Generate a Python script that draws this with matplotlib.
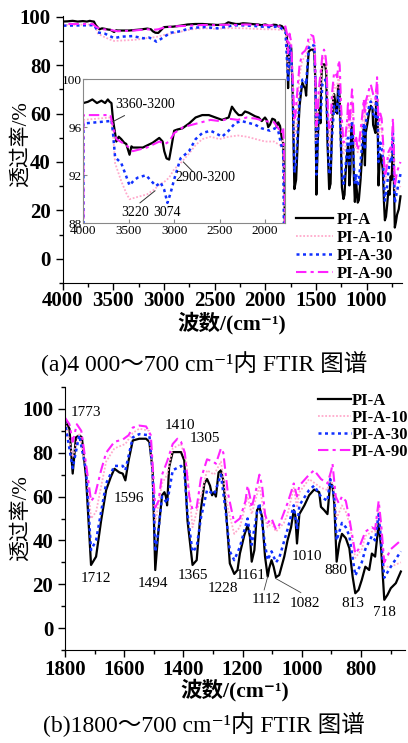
import numpy as np
import matplotlib
matplotlib.use("Agg")
import matplotlib.pyplot as plt
from matplotlib.ticker import MultipleLocator

plt.rcParams['font.family'] = ['Liberation Serif', 'Noto Sans CJK SC', 'DejaVu Sans']
plt.rcParams['axes.unicode_minus'] = False

# ---- spectra (wavenumber cm-1, transmittance %) ----
pia_wn = [4000, 3950, 3900, 3850, 3800, 3760, 3730, 3709, 3690, 3673, 3650, 3636, 3610, 3582,
          3550, 3527, 3491, 3470, 3455, 3400, 3345, 3290, 3236, 3200, 3164, 3127, 3109, 3084,
          3055, 3029, 3000, 2964, 2909, 2836, 2764, 2691, 2618, 2545, 2473, 2400, 2364, 2327,
          2290, 2255, 2220, 2182, 2109, 2070, 2036, 2000, 1982, 1965, 1945, 1920, 1891, 1870,
          1855, 1835, 1818,
          1800, 1785, 1774, 1763, 1752, 1743, 1729, 1712, 1695, 1678, 1661, 1645, 1633, 1616,
          1605, 1596, 1585, 1571, 1549, 1526, 1515, 1504, 1495, 1484, 1472, 1464, 1459, 1455,
          1448, 1436, 1408, 1397, 1386, 1369, 1355, 1341, 1329, 1320, 1310, 1303, 1296, 1290,
          1281, 1273, 1265, 1256, 1243, 1228, 1217, 1209, 1194, 1183, 1175, 1169, 1160, 1151,
          1143, 1134, 1124, 1115, 1110, 1102, 1095, 1087, 1076, 1059, 1048, 1036, 1027, 1022,
          1016, 1008, 991, 975, 958, 941, 935, 924, 913, 904, 896, 890, 882, 873, 864, 851,
          839, 828, 819, 808, 797, 785, 772, 763, 752, 740, 732, 721, 710, 699, 682, 665]
pia_t = [98.0, 98.1, 98.3, 98.0, 98.2, 98.0, 98.3, 98.1, 98.0, 96.6, 95.5, 94.8, 95.2, 95.0,
         94.7, 94.6, 93.7, 94.4, 94.3, 94.3, 94.3, 94.5, 94.7, 94.9, 95.1, 94.8, 94.0, 93.4,
         93.3, 94.4, 95.7, 95.8, 95.9, 96.3, 96.8, 97.0, 97.0, 96.8, 96.6, 96.8, 97.7, 97.3,
         97.0, 97.0, 97.3, 97.2, 96.9, 96.8, 96.5, 96.8, 96.6, 96.0, 96.2, 96.7, 96.6, 96.0,
         96.4, 96.1, 95.2,
         94.7, 91.0, 70.5, 87.0, 88.0, 87.0, 69.0, 28.8, 32.6, 49.0, 63.0, 69.0, 72.7, 71.0,
         70.5, 67.4, 76.5, 85.6, 86.4, 86.4, 85.0, 72.0, 26.5, 44.7, 60.6, 62.0, 60.0, 56.0,
         73.5, 80.3, 80.3, 76.5, 49.0, 28.8, 31.0, 53.8, 66.0, 68.0, 65.0, 60.6, 62.0, 60.0,
         71.0, 72.0, 67.4, 53.8, 29.5, 24.7, 26.5, 34.0, 42.4, 47.0, 41.7, 30.3, 35.6, 53.8,
         55.3, 50.8, 32.6, 23.5, 27.3, 31.0, 28.0, 23.2, 24.2, 32.6, 40.0, 46.0, 53.8, 51.5,
         38.6, 52.0, 56.0, 60.6, 63.2, 62.0, 55.3, 53.8, 52.0, 66.0, 65.0, 56.8, 30.3, 38.6,
         43.0, 41.0, 36.4, 23.5, 15.9, 17.4, 22.0, 28.0, 26.5, 34.0, 32.6, 47.7, 37.0, 12.9,
         15.2, 18.2, 20.5, 25.8]

pia10_wn = [4000, 3700, 3673, 3650, 3582, 3527, 3491, 3400, 3300, 3220, 3164, 3100, 3055, 3000,
            2930, 2836, 2764, 2691, 2600, 2500, 2400, 2300, 2200, 2100, 2000, 1900, 1818,
            1800, 1774, 1752, 1729, 1712, 1695, 1661, 1633, 1596, 1571, 1549, 1515, 1495, 1472,
            1455, 1436, 1408, 1390, 1369, 1341, 1320, 1296, 1273, 1250, 1228, 1209, 1183, 1169,
            1143, 1124, 1115, 1102, 1087, 1060, 1048, 1027, 1016, 1008, 975, 935, 913, 904, 890,
            882, 864, 851, 839, 819, 797, 785, 763, 752, 740, 721, 699, 665]
pia10_t = [96.6, 96.8, 95.5, 93.0, 91.5, 90.5, 90.0, 90.2, 90.4, 90.8, 91.2, 91.5, 91.8, 92.5,
           93.0, 93.8, 94.5, 95.0, 95.2, 95.0, 95.2, 95.3, 95.2, 95.0, 94.8, 94.8, 94.4,
           95.0, 78.0, 89.0, 74.0, 50.0, 53.0, 76.0, 82.0, 84.0, 89.0, 91.0, 90.0, 48.0, 66.0,
           70.0, 82.0, 84.0, 76.0, 46.0, 60.0, 72.0, 70.0, 76.0, 55.0, 43.0, 46.0, 60.0, 52.0,
           65.0, 50.0, 46.0, 48.0, 44.0, 48.0, 52.0, 64.0, 55.0, 62.0, 68.0, 64.0, 63.0, 70.0,
           62.0, 50.0, 56.0, 53.0, 48.0, 32.0, 36.0, 42.0, 44.0, 44.0, 55.0, 28.0, 28.0, 30.0]

pia30_wn = [4000, 3999, 3709, 3690, 3673, 3650, 3582, 3527, 3491, 3440, 3400, 3310, 3250, 3200,
            3150, 3110, 3074, 3040, 3000, 2930, 2836, 2764, 2691, 2600, 2545, 2473, 2400, 2327,
            2255, 2182, 2109, 2036, 1945, 1891, 1855, 1818,
            1800, 1774, 1752, 1729, 1712, 1695, 1661, 1633, 1605, 1596, 1571, 1549, 1515, 1504,
            1495, 1484, 1472, 1455, 1436, 1408, 1397, 1386, 1369, 1355, 1341, 1320, 1296, 1273,
            1256, 1243, 1228, 1209, 1183, 1169, 1151, 1143, 1124, 1115, 1102, 1087, 1076, 1048,
            1027, 1016, 1008, 975, 958, 935, 913, 904, 890, 882, 864, 851, 839, 819, 797, 785,
            763, 752, 740, 721, 699, 665]
pia30_t = [0.0, 96.3, 96.5, 96.6, 95.5, 93.5, 93.0, 91.9, 91.15, 91.6, 91.8, 92.0, 91.5, 91.1,
           91.4, 90.8, 89.7, 90.5, 91.65, 93.4, 94.0, 95.0, 95.5, 95.7, 95.5, 95.2, 95.7, 96.35,
           96.5, 96.35, 96.2, 95.9, 95.7, 95.9, 95.7, 94.4,
           94.0, 73.0, 88.0, 72.0, 35.6, 40.0, 66.0, 74.0, 74.0, 72.0, 87.0, 88.5, 88.0, 72.0,
           34.8, 45.0, 60.0, 57.0, 72.0, 74.0, 72.0, 52.0, 34.8, 37.0, 50.0, 63.0, 61.0, 70.0,
           52.0, 35.0, 31.0, 37.0, 50.0, 38.0, 53.0, 57.0, 38.0, 31.0, 35.0, 30.0, 32.0, 45.0,
           56.0, 45.0, 56.0, 63.0, 65.0, 60.0, 58.0, 68.0, 60.0, 40.0, 48.0, 46.0, 42.0, 24.0,
           30.0, 36.0, 42.0, 40.0, 52.0, 23.0, 28.0, 35.0]

pia90_wn = [4000, 3999, 3700, 3673, 3636, 3527, 3455, 3300, 3164, 3100, 3055, 3000, 2900, 2800,
            2700, 2600, 2500, 2400, 2300, 2200, 2100, 2000, 1900, 1818,
            1800, 1785, 1774, 1760, 1745, 1729, 1712, 1700, 1678, 1661, 1633, 1605, 1585, 1571,
            1549, 1526, 1510, 1495, 1484, 1472, 1455, 1436, 1420, 1408, 1395, 1380, 1369, 1355,
            1341, 1320, 1300, 1290, 1273, 1265, 1250, 1228, 1209, 1190, 1183, 1175, 1169, 1151,
            1143, 1134, 1124, 1115, 1102, 1087, 1076, 1048, 1036, 1027, 1016, 1008, 975, 958,
            935, 913, 900, 896, 885, 875, 864, 851, 839, 819, 808, 785, 763, 752, 740, 732, 721,
            699, 665]
pia90_t = [0.0, 97.0, 97.0, 96.0, 95.0, 94.5, 94.0, 94.3, 94.8, 94.6, 94.8, 95.5, 96.0, 96.2,
           96.4, 96.6, 96.5, 96.7, 96.6, 96.8, 96.7, 96.5, 96.4, 95.5,
           96.0, 93.0, 85.0, 93.0, 90.0, 75.0, 58.0, 60.0, 72.0, 80.0, 85.0, 86.0, 88.0, 91.5,
           92.4, 92.0, 88.0, 55.0, 58.0, 70.0, 76.0, 84.0, 86.4, 85.0, 80.0, 60.0, 54.0, 55.0,
           68.0, 77.0, 76.0, 75.0, 82.0, 80.0, 62.0, 48.0, 50.0, 58.0, 65.0, 60.0, 55.0, 65.0,
           70.0, 65.0, 52.0, 48.0, 50.0, 45.0, 47.0, 57.0, 62.0, 66.0, 60.0, 65.0, 70.0, 72.0,
           68.0, 66.0, 72.0, 75.0, 60.0, 57.0, 60.0, 58.0, 50.0, 34.0, 36.0, 44.0, 46.0, 45.0,
           58.0, 48.0, 30.0, 36.0, 40.0]

labels = ["PI-A", "PI-A-10", "PI-A-30", "PI-A-90"]
series = [(pia_wn, pia_t), (pia10_wn, pia10_t), (pia30_wn, pia30_t), (pia90_wn, pia90_t)]
styles = [dict(color="black", lw=1.6, ls="-"),
          dict(color="#ffaacc", lw=1.3, ls=(0, (1, 1))),
          dict(color="#1030ff", lw=1.8, ls=(0, (1.2, 1.4))),
          dict(color="#ff22ff", lw=1.5, ls=(0, (5, 2, 1.5, 2)))]

peak_text = ["1773", "1596", "1410", "1305", "1712", "1494", "1365", "1228", "1161",
             "1112", "1082", "1010", "880", "813", "718"]
peak_x = [1729, 1583, 1410, 1326, 1695, 1504, 1369, 1265, 1172, 1121, 989, 984, 884, 828, 719]
peak_y = [98.5, 59, 92.4, 86.4, 22.7, 20.5, 24, 18.2, 23.8, 12.9, 11.4, 32.6, 26.5, 11.4, 7.1]

W, H = 408, 743
fig = plt.figure(figsize=(W / 100, H / 100), dpi=100)


def fig_rect(left, top, right, bottom):
    return [left / W, 1 - bottom / H, (right - left) / W, (bottom - top) / H]


def style_axes(ax, size=15):
    for s in ["top", "right"]:
        ax.spines[s].set_visible(False)
    ax.tick_params(direction="out", length=5, width=1, labelsize=size)
    ax.tick_params(which="minor", direction="out", length=3, width=1)
    for lab in ax.get_xticklabels() + ax.get_yticklabels():
        lab.set_fontweight("bold")


def draw(ax):
    for (wn, t), st, lab in zip(series, styles, labels):
        ax.plot(wn, t, label=lab, **st)


ylab = "透过率/%"
xlab = "波数/(cm⁻¹)"

# ---------- (a) full range ----------
ax1 = fig.add_axes(fig_rect(62.5, 16, 401.7, 283))
draw(ax1)
ax1.set_xlim(4000, 653)
ax1.set_ylim(-10, 100.3)
ax1.xaxis.set_major_locator(MultipleLocator(500))
ax1.xaxis.set_minor_locator(MultipleLocator(250))
ax1.yaxis.set_major_locator(MultipleLocator(20))
ax1.yaxis.set_minor_locator(MultipleLocator(10))
style_axes(ax1)
ax1.tick_params(axis="x", pad=1)
ax1.set_ylabel(ylab, fontsize=15)
ax1.yaxis.set_label_coords((31 - 62.5) / 339, 0.52)
ax1.set_xlabel(xlab, fontsize=15.5, fontweight="bold", labelpad=0.5)
ax1.legend(loc="upper left", bbox_to_anchor=(296 / W, 1 - 212 / H), bbox_transform=fig.transFigure,
           frameon=False, handlelength=2.2, handletextpad=0.25, labelspacing=0.12,
           borderpad=0, borderaxespad=0, prop=dict(weight="bold", size=12))

# inset
axi = fig.add_axes(fig_rect(83.3, 79, 285, 223.3))
draw(axi)
axi.set_xlim(4000, 1780)
axi.set_ylim(88, 100)
axi.xaxis.set_major_locator(MultipleLocator(500))
axi.yaxis.set_major_locator(MultipleLocator(4))
for s in axi.spines.values():
    s.set_color("#888888")
axi.tick_params(direction="in", length=3, width=0.8, labelsize=9.5, pad=1, color="#888888")
axi.annotate("3360-3200", xy=(3676, 96.45), xytext=(3651, 97.84), fontsize=10, va="center", ha="left",
             arrowprops=dict(arrowstyle="-", color="#333333", lw=0.7, shrinkA=2, shrinkB=0))
axi.text(3431, 88.9, "3220", fontsize=10, va="center", ha="center")
axi.plot([3376, 3211], [89.7, 90.7], color="#333333", lw=0.7)
axi.text(3075, 88.9, "3074", fontsize=10, va="center", ha="center")
axi.text(2990, 91.8, "2900-3200", fontsize=10, va="center", ha="left")
axi.plot([2899, 2795], [93.1, 92.3], color="#333333", lw=0.7)

fig.text(0.5, 1 - 364 / H, "(a)4 000～700 cm⁻¹内 FTIR 图谱", ha="center", va="center", fontsize=17)

# ---------- (b) fingerprint region ----------
ax2 = fig.add_axes(fig_rect(65, 387, 405, 650))
draw(ax2)
ax2.set_xlim(1800, 651)
ax2.set_ylim(-10, 110)
ax2.xaxis.set_major_locator(MultipleLocator(200))
ax2.xaxis.set_minor_locator(MultipleLocator(100))
ax2.yaxis.set_major_locator(MultipleLocator(20))
ax2.yaxis.set_minor_locator(MultipleLocator(10))
style_axes(ax2)
ax2.tick_params(axis="x", pad=2)
ax2.set_ylabel(ylab, fontsize=15)
ax2.yaxis.set_label_coords((31 - 65) / 340, 0.5)
ax2.set_xlabel(xlab, fontsize=15.5, fontweight="bold", labelpad=-1)
ax2.legend(loc="upper left", bbox_to_anchor=(318 / W, 1 - 393 / H), bbox_transform=fig.transFigure,
           frameon=False, handlelength=2.0, handletextpad=0.05, labelspacing=0.05,
           borderpad=0, borderaxespad=0, prop=dict(weight="bold", size=12))
for txt, x, y in zip(peak_text, peak_x, peak_y):
    ax2.text(x, y, txt, fontsize=11, ha="center", va="center")
ax2.plot([1127, 1115], [17.4, 23.5], color="#444444", lw=0.6)
ax2.plot([1003, 1089], [16.2, 22.7], color="#444444", lw=0.6)

fig.text(0.5, 1 - 725 / H, "(b)1800～700 cm⁻¹内 FTIR 图谱", ha="center", va="center", fontsize=17)

fig.savefig("out.png", dpi=100)
